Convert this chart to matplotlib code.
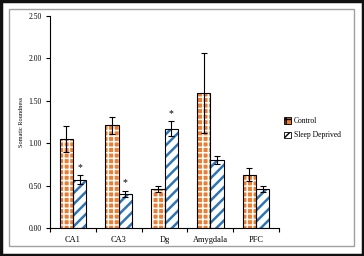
import matplotlib.pyplot as plt
import numpy as np
from matplotlib.patches import Rectangle

plt.rcParams['font.family'] = ['Liberation Serif', 'DejaVu Serif']

regions = ['CA1', 'CA3', 'Dg', 'Amygdala', 'PFC']
control = [1.05, 1.21, 0.46, 1.59, 0.63]
control_err = [0.15, 0.10, 0.04, 0.47, 0.08]
deprived = [0.57, 0.40, 1.17, 0.80, 0.46]
deprived_err = [0.05, 0.04, 0.09, 0.05, 0.04]
stars = [True, True, True, False, False]

orange = '#ED7D31'
blue = '#2E75B6'

fig = plt.figure(figsize=(3.64, 2.56), dpi=100)
# outer black frame and inner grey frame
fig.patches.append(Rectangle((0.003, 0.004), 0.994, 0.992, transform=fig.transFigure,
                             fill=False, edgecolor='#111111', linewidth=2.5))
fig.patches.append(Rectangle((9/364, 10/256), 345/364, 237/256, transform=fig.transFigure,
                             fill=False, edgecolor='#a0a0a0', linewidth=1.0))

ax = fig.add_axes([50/364, 28/256, 229/364, 212/256])
x = np.arange(len(regions))
w = 0.29

# orange cells with a white grid, blue stripes on white; black outlines on top
with plt.rc_context({'hatch.linewidth': 1.1}):
    ax.bar(x - w/2, control, w, color=orange, edgecolor='white', hatch='+++', linewidth=0)
    ax.bar([0], [0], color=orange, edgecolor='white', hatch='+++', linewidth=0, label='Control')
with plt.rc_context({'hatch.linewidth': 1.8}):
    ax.bar(x + w/2, deprived, w, color='white', edgecolor=blue, hatch='///', linewidth=0)
    ax.bar([0], [0], color='white', edgecolor=blue, hatch='///', linewidth=0, label='Sleep Deprived')
ax.bar(x - w/2, control, w, fill=False, edgecolor='black', linewidth=0.8)
ax.bar(x + w/2, deprived, w, fill=False, edgecolor='black', linewidth=0.8)
ax.errorbar(x - w/2, control, yerr=control_err, fmt='none', ecolor='black',
            elinewidth=0.8, capsize=2.2, capthick=0.8)
ax.errorbar(x + w/2, deprived, yerr=deprived_err, fmt='none', ecolor='black',
            elinewidth=0.8, capsize=2.2, capthick=0.8)

for i, s in enumerate(stars):
    if s:
        ax.text(x[i] + w/2, deprived[i] + deprived_err[i] + 0.04, '*',
                ha='center', va='bottom', fontsize=7)

leg = ax.legend(loc='center left', bbox_to_anchor=(1.01, 0.47), frameon=False,
                fontsize=5.5, handlelength=0.9, handleheight=0.9, handletextpad=0.3,
                labelspacing=0.8, borderaxespad=0)
for h in leg.legend_handles:
    h.set_edgecolor('black')
    h.set_linewidth(0.6)

ax.set_xlim(-0.5, len(regions) - 0.5)
ax.set_ylim(0, 2.5)
ax.set_yticks(np.arange(0, 2.51, 0.5))
ax.set_yticklabels(['%.2f' % v for v in np.arange(0, 2.51, 0.5)], fontsize=5.5)
ax.set_xticks(x)
ax.set_xticklabels(regions, fontsize=6)
ax.set_xticks(np.arange(-0.5, len(regions)), minor=True)
ax.tick_params(axis='x', which='major', length=0, pad=6)
ax.tick_params(axis='x', which='minor', length=3, width=0.8)
ax.tick_params(axis='y', length=3, width=0.8, pad=3)
ax.set_ylabel('Somatic Roundness', fontsize=4.5, labelpad=3)
ax.spines['top'].set_visible(False)
ax.spines['right'].set_visible(False)
ax.spines['left'].set_linewidth(0.8)
ax.spines['bottom'].set_linewidth(0.8)

fig.savefig('out.png', dpi=100)
